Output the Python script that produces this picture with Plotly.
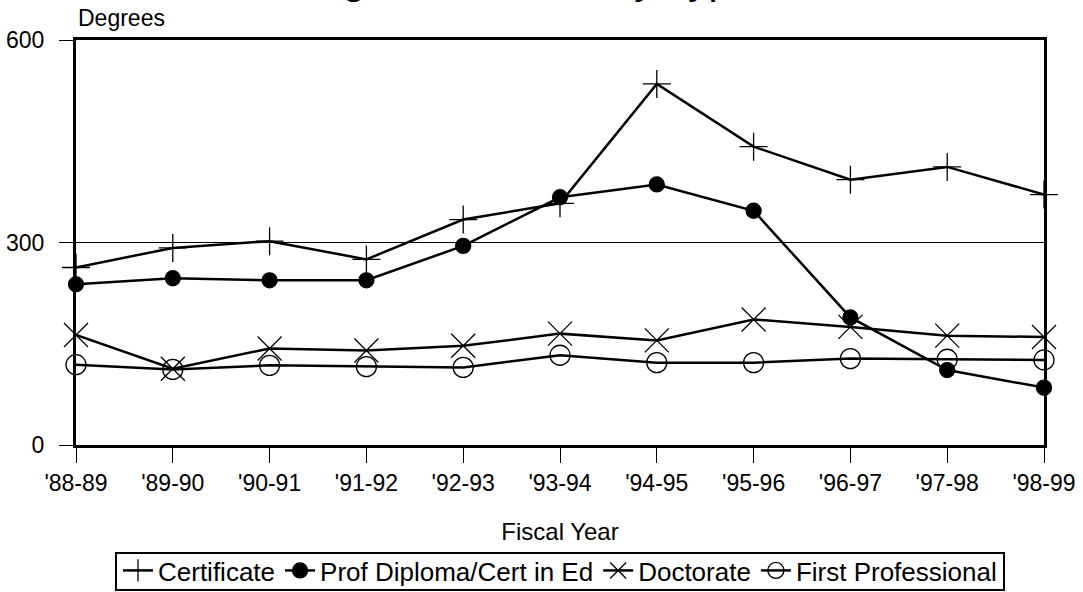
import plotly.graph_objects as go

years = ["'88-89", "'89-90", "'90-91", "'91-92", "'92-93", "'93-94",
         "'94-95", "'95-96", "'96-97", "'97-98", "'98-99"]
certificate = [263, 292, 302, 275, 334, 358, 535, 442, 393, 412, 371]
prof_diploma = [238, 247, 244, 244, 295, 367, 386, 347, 189, 111, 85]
doctorate = [163, 113, 143, 140, 147, 165, 155, 186, 175, 162, 160]
first_prof = [119, 112, 118, 116, 115, 133, 122, 122, 128, 127, 126]

FONT = "Liberation Sans, Arial, sans-serif"

fig = go.Figure()
series = [
    ("Certificate", certificate, "cross-thin-open", 20),
    ("Prof Diploma/Cert in Ed", prof_diploma, "circle", 15),
    ("Doctorate", doctorate, "x-thin-open", 24),
    ("First Professional", first_prof, "circle-open", 20),
]
for name, vals, sym, size in series:
    fig.add_trace(go.Scatter(
        x=years, y=vals, name=name, mode="lines+markers",
        line=dict(color="black", width=2.5),
        marker=dict(symbol=sym, size=size, color="black",
                    line=dict(color="black", width=1.3)),
        cliponaxis=False,
    ))

fig.update_layout(
    width=1083, height=592,
    paper_bgcolor="white", plot_bgcolor="white",
    margin=dict(l=76, r=39, t=40, b=147, autoexpand=False),
    font=dict(family=FONT, size=23, color="black"),
    showlegend=True,
    legend=dict(orientation="h", x=0.5, xanchor="center", y=-0.2519, yanchor="top",
                borderwidth=0, bgcolor="rgba(0,0,0,0)",
                font=dict(size=26), itemwidth=30, tracegroupgap=0,
                itemsizing="trace"),
)
# legend frame
fig.add_shape(type="rect", xref="paper", yref="paper",
              x0=0.0413, x1=0.9587, y0=-0.358, y1=-0.2667,
              line=dict(color="black", width=2), fillcolor="rgba(0,0,0,0)")
fig.update_xaxes(
    type="category", range=[0, 10], showline=True, linecolor="black", linewidth=3,
    mirror=True, ticks="outside", ticklen=15, tickcolor="black", tickwidth=1,
    showgrid=False, zeroline=False, automargin=False,
    title=dict(text="Fiscal Year", standoff=29, font=dict(size=24)),
)
fig.update_yaxes(
    range=[0, 600], tickvals=[0, 300, 600], showline=True, linecolor="black",
    linewidth=3, mirror=True, ticks="outside", ticklen=14, tickcolor="black",
    tickwidth=1, showgrid=True, gridcolor="black", gridwidth=1, zeroline=False,
    automargin=False, ticklabelstandoff=10,
)
fig.add_annotation(text="Degrees Earned, by Type", xref="paper", yref="paper",
                   x=0.4607, y=1.086, xanchor="center", yanchor="bottom",
                   showarrow=False, font=dict(size=41))
fig.add_annotation(text="Degrees", xref="paper", yref="paper", x=0, y=1.018,
                   xanchor="left", yanchor="bottom", showarrow=False,
                   font=dict(size=23))

fig.write_html("out.html", config={"displayModeBar": False},
               post_script="document.body.style.margin='0';"
                           "document.body.style.overflow='hidden';")
